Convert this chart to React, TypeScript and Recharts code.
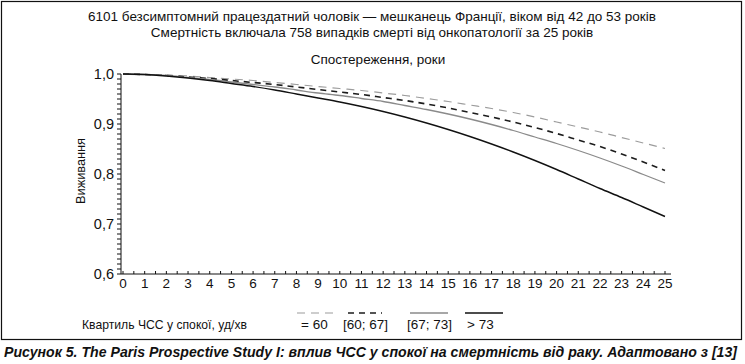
import React from 'react';
import { LineChart, Line, XAxis, YAxis } from 'recharts';

// Follow-up years
const years = [0, 1, 2, 3, 4, 5, 6, 7, 8, 9, 10, 11, 12, 13, 14, 15, 16, 17, 18, 19, 20, 21, 22, 23, 24, 25];

// Survival by resting heart-rate quartile
const q1Values = [1.0, 0.999, 0.998, 0.996, 0.993, 0.990, 0.987, 0.983, 0.979, 0.975, 0.971, 0.967, 0.962, 0.957, 0.951, 0.945, 0.938, 0.931, 0.923, 0.914, 0.904, 0.894, 0.884, 0.873, 0.862, 0.851];
const q2Values = [1.0, 0.999, 0.997, 0.994, 0.991, 0.987, 0.983, 0.979, 0.974, 0.969, 0.964, 0.959, 0.953, 0.947, 0.940, 0.932, 0.923, 0.914, 0.904, 0.893, 0.881, 0.868, 0.855, 0.840, 0.824, 0.807];
const q3Values = [1.0, 0.999, 0.997, 0.993, 0.989, 0.984, 0.979, 0.974, 0.968, 0.962, 0.957, 0.951, 0.945, 0.937, 0.929, 0.920, 0.910, 0.899, 0.887, 0.874, 0.861, 0.847, 0.832, 0.816, 0.799, 0.782];
const q4Values = [1.0, 0.999, 0.996, 0.992, 0.987, 0.981, 0.975, 0.968, 0.960, 0.952, 0.944, 0.935, 0.925, 0.914, 0.902, 0.889, 0.875, 0.860, 0.844, 0.827, 0.809, 0.790, 0.771, 0.753, 0.734, 0.715];

const seriesNames = ['= 60', '[60; 67]', '[67; 73]', '> 73'];

const titleLines = [
  '6101 безсимптомний працездатний чоловік — мешканець Франції, віком від 42 до 53 років',
  'Смертність включала 758 випадків смерті від онкопатології за 25 років',
];
const xTitle = 'Спостереження, роки';
const yTitle = 'Виживання';
const legendTitle = 'Квартиль ЧСС у спокої, уд/хв';
const caption = 'Рисунок 5. The Paris Prospective Study I: вплив ЧСС у спокої на смертність від раку. Адаптовано з [13]';

const yMin = 0.6;
const yMax = 1.0;
const xMax = 25;

const data = years.map((y, i) => ({
  year: y,
  q1: q1Values[i],
  q2: q2Values[i],
  q3: q3Values[i],
  q4: q4Values[i],
}));

const xTicks = Array.from({ length: xMax * 2 + 1 }, (_, i) => i / 2);
const yTicks = Array.from({ length: 41 }, (_, i) => Math.round((yMin + i * 0.01) * 100) / 100);

const series = [
  { key: 'q1', name: seriesNames[0], color: '#9c9c9c', dash: '8 6', width: 1.2 },
  { key: 'q2', name: seriesNames[1], color: '#1c1c1c', dash: '6 5', width: 1.6 },
  { key: 'q3', name: seriesNames[2], color: '#8a8a8a', dash: undefined as string | undefined, width: 1.3 },
  { key: 'q4', name: seriesNames[3], color: '#111111', dash: undefined as string | undefined, width: 1.4 },
];

const FONT = '"Liberation Sans", Arial, Helvetica, sans-serif';

const legendLayout = [
  { tx: 301, lx1: 297, lx2: 333 },
  { tx: 343, lx1: 348, lx2: 382 },
  { tx: 407, lx1: 410, lx2: 448 },
  { tx: 467, lx1: 465, lx2: 503 },
];

export default function App() {
  return (
    <div style={{ position: 'absolute', left: 0, top: 0, width: 745, height: 364, background: '#fff' }}>
      <LineChart
        width={745}
        height={364}
        data={data}
        margin={{ top: 74, right: 74, bottom: 70, left: 71 }}
        style={{ fontFamily: FONT }}
      >
        <XAxis
          dataKey="year"
          type="number"
          domain={[0, xMax]}
          ticks={xTicks}
          interval={0}
          height={20}
          padding={{ left: 2, right: 6 }}
          tickSize={-3}
          tickMargin={7}
          stroke="#111"
          tick={{ fill: '#111', fontSize: 13.5 }}
          tickFormatter={(v: number) => (Number.isInteger(v) ? String(v) : '')}
        />
        <YAxis
          type="number"
          domain={[yMin, yMax]}
          ticks={yTicks}
          interval={0}
          width={50}
          tickSize={4}
          tickMargin={3}
          stroke="#111"
          tick={{ fill: '#111', fontSize: 14.5 }}
          tickFormatter={(v: number) =>
            Math.abs(v * 10 - Math.round(v * 10)) < 1e-6 ? v.toFixed(1).replace('.', ',') : ''
          }
        />
        {series.map((s) => (
          <Line
            key={s.key}
            dataKey={s.key}
            name={s.name}
            type="monotone"
            stroke={s.color}
            strokeWidth={s.width}
            strokeDasharray={s.dash}
            dot={false}
            activeDot={false}
            isAnimationActive={false}
          />
        ))}
      </LineChart>
      <svg
        width={745}
        height={364}
        style={{ position: 'absolute', left: 0, top: 0, pointerEvents: 'none', fontFamily: FONT }}
      >
        <rect x={1.5} y={1.5} width={740} height={338} fill="none" stroke="#111" strokeWidth={1.2} />
        <text x={372} y={21} textAnchor="middle" fontSize={13.5} fill="#111">{titleLines[0]}</text>
        <text x={372} y={37} textAnchor="middle" fontSize={13.5} fill="#111">{titleLines[1]}</text>
        <text x={378} y={64} textAnchor="middle" fontSize={13.5} fill="#111">{xTitle}</text>
        <text
          x={0}
          y={0}
          transform="translate(85 171) rotate(-90)"
          textAnchor="middle"
          fontSize={13.5}
          fill="#111"
          textLength={66}
          lengthAdjust="spacingAndGlyphs"
        >
          {yTitle}
        </text>
        <text
          x={82}
          y={329}
          fontSize={13.5}
          fill="#111"
          textLength={165}
          lengthAdjust="spacingAndGlyphs"
        >
          {legendTitle}
        </text>
        {series.map((s, i) => (
          <g key={s.key}>
            <line
              x1={legendLayout[i].lx1}
              x2={legendLayout[i].lx2}
              y1={313}
              y2={313}
              stroke={s.color}
              strokeWidth={s.width}
              strokeDasharray={s.dash}
            />
            <text x={legendLayout[i].tx} y={329} fontSize={13.5} fill="#111">{s.name}</text>
          </g>
        ))}
        <text
          x={4}
          y={357}
          fontSize={14}
          fontWeight="bold"
          fontStyle="italic"
          fill="#111"
          textLength={733}
          lengthAdjust="spacingAndGlyphs"
        >
          {caption}
        </text>
      </svg>
    </div>
  );
}
